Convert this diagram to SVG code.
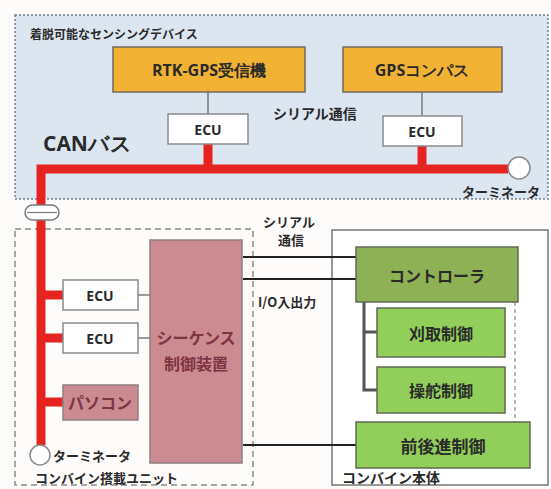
<svg xmlns="http://www.w3.org/2000/svg" width="551" height="489" viewBox="0 0 551 489">
<style>
  .jp { font-family: "Noto Sans CJK JP", "Noto Sans", sans-serif; font-weight: bold; fill: #2a2a2a; }
  .lat { font-family: "Open Sans", "Noto Sans", sans-serif; font-weight: bold; fill: #2a2a2a; }
  .c { text-anchor: middle; dominant-baseline: central; }
  .l { dominant-baseline: central; }
  .orange { fill: #f2b234; stroke: #6f6a5e; stroke-width: 1.5; }
  .ecu { fill: #ffffff; stroke: #8a8a8a; stroke-width: 1.5; }
  .rose { fill: #cc8b90; stroke: #8f8080; stroke-width: 1.5; }
  .olive { fill: #8fb155; stroke: #5f6a55; stroke-width: 1.5; }
  .green { fill: #92cf5a; stroke: #5f6a55; stroke-width: 1.5; }
  .red { fill: none; stroke: #e52421; stroke-width: 9; }
  .gray { fill: none; stroke: #7a7a7a; stroke-width: 1.5; }
  .blk { fill: none; stroke: #222; stroke-width: 2; }
  .term { fill: #ffffff; stroke: #8a8a8a; stroke-width: 1.5; }
  .rosetext { fill: #7e3444; }
</style>
<rect x="0" y="0" width="551" height="489" fill="#fdfcfa"/>

<!-- containers -->
<g id="sensing-devices">
  <rect x="15" y="15" width="533" height="184" fill="#dce6f1" stroke="#6f7f90" stroke-width="1.5" stroke-dasharray="2,2"/>
  <text class="jp l" x="30" y="33" font-size="12">着脱可能なセンシングデバイス</text>
  <text class="lat l" x="43" y="143" font-size="21">CANバス</text>
  <text class="jp l" x="273" y="113" font-size="14">シリアル通信</text>
  <text class="jp l" x="462" y="191" font-size="13">ターミネータ</text>
</g>
<g id="combine-unit">
  <rect x="15" y="229" width="238" height="256" fill="none" stroke="#8a8a8a" stroke-width="1.5" stroke-dasharray="6,4"/>
  <text class="jp l" x="35" y="477" font-size="13">コンバイン搭載ユニット</text>
  <text class="jp l" x="53" y="455" font-size="13">ターミネータ</text>
</g>
<g id="combine-body">
  <rect x="332" y="230" width="216" height="255" fill="#ffffff" stroke="#777" stroke-width="1.5"/>
  <text class="jp l" x="342" y="477" font-size="14">コンバイン本体</text>
</g>

<!-- connectors -->
<g id="connectors">
  <path class="red" d="M208,144 V169 M41,445 V169 H508 M422,146 V169 M41,295 H63 M41,338 H63 M41,402 H63"/>
  <path class="gray" d="M208,92 V114 M422,92 V116 M138,295 H150 M138,338 H150"/>
  <path class="blk" d="M243,257 H356 M243,279 H356 M243,445 H356"/>
  <path fill="none" stroke="#555" stroke-width="3" d="M364,302 V390 H377 M364,332 H377"/>
  <path fill="none" stroke="#888" stroke-width="1.2" stroke-dasharray="4,3" d="M515,302 V422"/>
  <text class="jp c" x="289" y="221" font-size="13">シリアル</text>
  <text class="jp c" x="291" y="239" font-size="13">通信</text>
  <text class="jp l" x="258" y="301" font-size="13">I/O入出力</text>
</g>

<!-- terminators and coupler -->
<g id="terminator-right"><circle class="term" cx="519" cy="168" r="11"/></g>
<g id="terminator-left"><circle class="term" cx="40" cy="455" r="10"/></g>
<g id="coupler">
  <rect x="25" y="205" width="34" height="15" rx="7.5" fill="#ffffff" stroke="#7a7a7a" stroke-width="1.5"/>
  <line x1="27" y1="212.5" x2="57" y2="212.5" stroke="#7a7a7a" stroke-width="1.2"/>
</g>

<!-- nodes -->
<g id="rtk-gps">
  <rect class="orange" x="113" y="47" width="192" height="45"/>
  <text class="lat c" x="209" y="70" font-size="16">RTK-GPS受信機</text>
</g>
<g id="gps-compass">
  <rect class="orange" x="343" y="47" width="159" height="45"/>
  <text class="lat c" x="422" y="70" font-size="16">GPSコンパス</text>
</g>
<g id="ecu-rtk">
  <rect class="ecu" x="168" y="114" width="80" height="30"/>
  <text class="lat c" x="208" y="129" font-size="14">ECU</text>
</g>
<g id="ecu-gps">
  <rect class="ecu" x="383" y="116" width="79" height="30"/>
  <text class="lat c" x="422" y="131" font-size="14">ECU</text>
</g>
<g id="ecu-1">
  <rect class="ecu" x="63" y="280" width="75" height="30"/>
  <text class="lat c" x="100" y="295" font-size="14">ECU</text>
</g>
<g id="ecu-2">
  <rect class="ecu" x="63" y="323" width="75" height="30"/>
  <text class="lat c" x="100" y="338" font-size="14">ECU</text>
</g>
<g id="pc">
  <rect class="rose" x="63" y="385" width="75" height="35" fill="#c9858c"/>
  <text class="jp c rosetext" x="100" y="402" font-size="16">パソコン</text>
</g>
<g id="sequencer">
  <rect class="rose" x="150" y="240" width="92" height="223"/>
  <text class="jp c rosetext" x="196" y="337" font-size="16">シーケンス</text>
  <text class="jp c rosetext" x="196" y="363" font-size="16">制御装置</text>
</g>
<g id="controller">
  <rect class="olive" x="356" y="247" width="162" height="55"/>
  <text class="jp c" x="437" y="275" font-size="16" fill="#3a4a25">コントローラ</text>
</g>
<g id="harvest-control">
  <rect class="green" x="377" y="308" width="128" height="49"/>
  <text class="jp c" x="441" y="333" font-size="16">刈取制御</text>
</g>
<g id="steering-control">
  <rect class="green" x="377" y="367" width="128" height="46"/>
  <text class="jp c" x="441" y="390" font-size="16">操舵制御</text>
</g>
<g id="drive-control">
  <rect class="green" x="356" y="422" width="174" height="46"/>
  <text class="jp c" x="443" y="445" font-size="17">前後進制御</text>
</g>
</svg>
